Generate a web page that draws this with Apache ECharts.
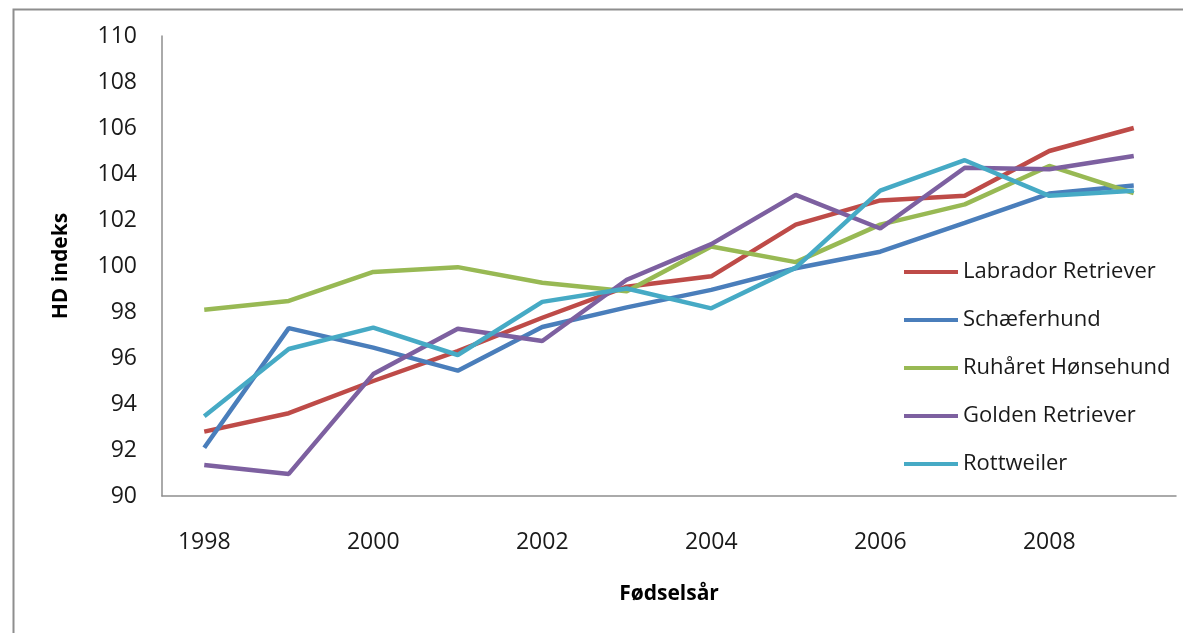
<!DOCTYPE html>
<html>
<head>
<meta charset="utf-8">
<script src="https://cdn.jsdelivr.net/npm/echarts@6/dist/echarts.min.js"></script>
<style>
html,body{margin:0;padding:0;background:#fff;}
#chart{width:1183px;height:633px;}
</style>
</head>
<body>
<div id="chart"></div>
<script>
const years = ['1998','1999','2000','2001','2002','2003','2004','2005','2006','2007','2008','2009'];
const yTicks = [90, 92, 94, 96, 98, 100, 102, 104, 106, 108, 110];
const seriesNames = ['Labrador Retriever','Schæferhund','Ruhåret Hønsehund','Golden Retriever','Rottweiler'];
const labrador = [92.8, 93.6, 95.0, 96.3, 97.75, 99.1, 99.55, 101.8, 102.85, 103.05, 105.0, 106.0];
const schaefer = [92.1, 97.3, 96.45, 95.45, 97.35, 98.2, 98.96, 99.9, 100.62, 101.87, 103.15, 103.5];
const ruhaaret = [98.1, 98.48, 99.74, 99.95, 99.27, 98.9, 100.85, 100.17, 101.8, 102.68, 104.35, 103.17];
const golden = [91.35, 90.96, 95.3, 97.27, 96.74, 99.4, 100.95, 103.09, 101.63, 104.27, 104.21, 104.78];
const rottweiler = [93.47, 96.39, 97.32, 96.13, 98.44, 99.02, 98.16, 99.93, 103.28, 104.6, 103.05, 103.27];
const colors = ['#BE4B48', '#4A7EBB', '#98B954', '#7D60A0', '#46AAC5'];
const values = [labrador, schaefer, ruhaaret, golden, rottweiler];

const chart = echarts.init(document.getElementById('chart'), null, {renderer: 'canvas'});
const font = '"Open Sans", sans-serif';
chart.setOption({
  animation: false,
  backgroundColor: '#fff',
  color: colors,
  grid: {left: 162, right: 7, top: 36, bottom: 137, containLabel: false},
  graphic: [{
    type: 'rect', left: 11, top: 7,
    shape: {width: 1300, height: 800},
    style: {fill: 'none', stroke: '#8e8e8e', lineWidth: 2},
    silent: true, z: 100
  }],
  legend: {
    orient: 'vertical', left: 899, top: 254,
    icon: 'rect', itemWidth: 54, itemHeight: 4, itemGap: 22,
    data: seriesNames,
    textStyle: {fontFamily: font, fontSize: 22, color: '#1a1a1a', lineHeight: 26, padding: [0,0,0,0]}
  },
  xAxis: {
    type: 'category', data: years, boundaryGap: true,
    name: 'Fødselsår', nameLocation: 'middle', nameGap: 88,
    nameTextStyle: {fontFamily: font, fontSize: 21, fontWeight: 'bold', color: '#000'},
    axisLine: {lineStyle: {color: '#8e8e8e', width: 1.5}},
    axisTick: {show: false},
    axisLabel: {interval: 1, fontFamily: font, fontSize: 23, color: '#1a1a1a', margin: 35}
  },
  yAxis: {
    type: 'value', min: 90, max: 110, interval: 2,
    name: 'HD indeks', nameLocation: 'middle', nameGap: 90, nameRotate: 90,
    nameTextStyle: {fontFamily: font, fontSize: 21, fontWeight: 'bold', color: '#000'},
    axisLine: {show: true, lineStyle: {color: '#8e8e8e', width: 1.5}},
    axisTick: {show: false},
    splitLine: {show: false},
    axisLabel: {fontFamily: font, fontSize: 23, color: '#1a1a1a', margin: 25,
      formatter: function(v){ return yTicks.indexOf(v) >= 0 ? String(v) : ''; }}
  },
  series: seriesNames.map(function(n, i){
    return {
      name: n, type: 'line', data: values[i],
      symbol: 'none', lineStyle: {width: 4.5, color: colors[i]},
      itemStyle: {color: colors[i]}
    };
  })
});
</script>
</body>
</html>
